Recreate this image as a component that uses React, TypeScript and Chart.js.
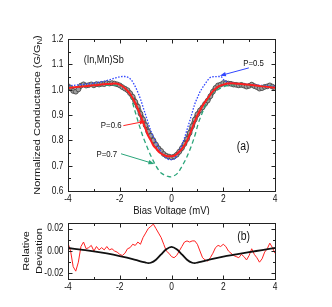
import React, { useEffect, useRef } from "react";
import { Chart, registerables } from "chart.js";

Chart.register(...registerables);

// ---------- data ----------
const V_DATA = [
  -4.0, -3.9, -3.8, -3.7, -3.6, -3.5, -3.4, -3.3, -3.2, -3.1,
  -3.0, -2.9, -2.8, -2.7, -2.6, -2.5, -2.4, -2.3, -2.2, -2.1,
  -2.0, -1.9, -1.8, -1.7, -1.6, -1.5, -1.4, -1.3, -1.2, -1.1,
  -1.0, -0.9, -0.8, -0.7, -0.6, -0.5, -0.4, -0.3, -0.2, -0.1,
  0.0,
  0.1, 0.2, 0.3, 0.4, 0.5, 0.6, 0.7, 0.8, 0.9, 1.0,
  1.1, 1.2, 1.3, 1.4, 1.5, 1.6, 1.7, 1.8, 1.9, 2.0,
  2.1, 2.2, 2.3, 2.4, 2.5, 2.6, 2.7, 2.8, 2.9, 3.0,
  3.1, 3.2, 3.3, 3.4, 3.5, 3.6, 3.7, 3.8, 3.9, 4.0,
];

// measured normalized conductance (grey circles)
const G_DATA = [
  1.014, 1.008, 0.995, 0.992, 1.001, 1.016, 1.021, 1.016, 1.018, 1.021,
  1.017, 1.022, 1.020, 1.023, 1.022, 1.026, 1.024, 1.026, 1.024, 1.021,
  1.017, 1.010, 1.004, 0.998, 0.986, 0.972, 0.952, 0.933, 0.905, 0.883,
  0.859, 0.834, 0.818, 0.800, 0.783, 0.768, 0.758, 0.746, 0.739, 0.736,
  0.733,
  0.736, 0.743, 0.755, 0.769, 0.786, 0.805, 0.829, 0.856, 0.882, 0.903,
  0.918, 0.930, 0.944, 0.957, 0.974, 0.992, 1.007, 1.017, 1.020, 1.026,
  1.026, 1.024, 1.023, 1.020, 1.019, 1.017, 1.019, 1.016, 1.012, 1.015,
  1.020, 1.014, 1.010, 1.004, 1.006, 1.011, 1.013, 1.017, 1.012, 1.006,
];

// fit P = 0.6 (red solid)
const V_FIT06 = [
  -4, -3.5, -3, -2.5, -2.2, -2.0, -1.8, -1.63, -1.5, -1.37,
  -1.25, -1.11, -1.0, -0.92, -0.8, -0.72, -0.6, -0.46, -0.3, -0.15,
  0, 0.15, 0.3, 0.45, 0.63, 0.75, 0.89, 1.0, 1.15, 1.3,
  1.41, 1.55, 1.66, 1.8, 2.0, 2.3, 2.6, 3.0, 3.5, 4.0,
];
const G_FIT06 = [
  1.007, 1.012, 1.017, 1.022, 1.024, 1.020, 1.006, 0.987, 0.966, 0.941,
  0.911, 0.875, 0.845, 0.822, 0.800, 0.783, 0.768, 0.752, 0.742, 0.737,
  0.737, 0.742, 0.755, 0.772, 0.805, 0.835, 0.872, 0.898, 0.928, 0.952,
  0.967, 0.987, 1.000, 1.012, 1.020, 1.025, 1.023, 1.019, 1.013, 1.008,
];

// fit P = 0.5 (blue dotted)
const V_FIT05 = [
  -4, -3.5, -3, -2.5, -2.2, -2.0, -1.8, -1.65, -1.56, -1.45,
  -1.37, -1.27, -1.17, -1.08, -0.98, -0.88, -0.79, -0.69, -0.59, -0.46,
  -0.33, -0.2, -0.08, 0.05, 0.15, 0.31, 0.4, 0.5, 0.6, 0.7,
  0.8, 0.89, 1.0, 1.08, 1.18, 1.28, 1.38, 1.47, 1.6, 1.9,
  2.05, 2.2, 2.4, 2.7, 3.0, 3.5, 4.0,
];
const G_FIT05 = [
  1.015, 1.020, 1.026, 1.036, 1.045, 1.051, 1.052, 1.047, 1.039, 1.022,
  1.006, 0.982, 0.954, 0.925, 0.894, 0.862, 0.835, 0.811, 0.789, 0.764,
  0.743, 0.730, 0.724, 0.724, 0.731, 0.760, 0.782, 0.809, 0.842, 0.875,
  0.909, 0.941, 0.968, 0.987, 1.005, 1.020, 1.035, 1.046, 1.051, 1.052,
  1.036, 1.029, 1.025, 1.022, 1.020, 1.017, 1.013,
];

// fit P = 0.7 (green dashed)
const V_FIT07 = [
  -4, -3.5, -3, -2.5, -2.2, -2.0, -1.88, -1.76, -1.66, -1.56,
  -1.47, -1.37, -1.27, -1.17, -1.08, -0.98, -0.88, -0.79, -0.69, -0.59,
  -0.5, -0.4, -0.27, -0.14, -0.03, 0.1, 0.24, 0.34, 0.44, 0.54,
  0.63, 0.73, 0.83, 0.93, 1.02, 1.11, 1.21, 1.31, 1.41, 1.5,
  1.6, 1.7, 1.79, 1.92, 2.05, 2.3, 2.6, 3.0, 3.5, 4.0,
];
const G_FIT07 = [
  1.010, 1.013, 1.015, 1.018, 1.018, 1.016, 1.013, 1.006, 0.990, 0.967,
  0.936, 0.901, 0.867, 0.835, 0.808, 0.783, 0.758, 0.737, 0.716, 0.697,
  0.683, 0.671, 0.663, 0.658, 0.656, 0.660, 0.671, 0.686, 0.704, 0.723,
  0.743, 0.768, 0.796, 0.828, 0.862, 0.888, 0.914, 0.938, 0.960, 0.975,
  0.987, 0.995, 1.000, 1.008, 1.013, 1.018, 1.020, 1.018, 1.015, 1.012,
];

// relative deviation of data (red, panel b), on V_DATA grid
const DEV_RED = [
  0.007, 0.000, -0.014, -0.018, -0.010, 0.004, 0.008, 0.002, 0.003, 0.005,
  0.000, 0.004, 0.001, 0.003, 0.001, 0.004, 0.001, 0.002, 0.000, -0.001,
  -0.003, -0.004, -0.002, 0.002, 0.003, 0.006, 0.005, 0.008, 0.006, 0.012,
  0.016, 0.020, 0.022, 0.024, 0.020, 0.016, 0.012, 0.006, 0.000, -0.002,
  -0.005,
  -0.006, -0.004, 0.000, 0.004, 0.008, 0.009, 0.008, 0.009, 0.009, 0.006,
  0.000, -0.006, -0.008, -0.009, -0.006, -0.002, 0.003, 0.005, 0.004, 0.006,
  0.004, 0.000, -0.002, -0.004, -0.005, -0.006, -0.003, -0.005, -0.008, -0.004,
  0.002, -0.003, -0.006, -0.010, -0.007, -0.001, 0.002, 0.007, 0.003, -0.002,
];

// relative deviation (black, panel b)
const V_DEVFIT = [
  -4, -3.5, -3, -2.5, -2, -1.5, -1.2, -1.0, -0.9, -0.8,
  -0.6, -0.4, -0.2, 0, 0.2, 0.4, 0.6, 0.8, 0.9, 1.0,
  1.2, 1.5, 2, 2.5, 3, 3.5, 4,
];
const DEV_BLACK = [
  0.0027, 0.0012, -0.0003, -0.0022, -0.0045, -0.0072, -0.0092, -0.0103, -0.0108, -0.0105,
  -0.0078, -0.003, 0.0015, 0.0036, 0.0015, -0.003, -0.0078, -0.0105, -0.0108, -0.0103,
  -0.0092, -0.0075, -0.0050, -0.0030, -0.0010, 0.0008, 0.0027,
];

// ticks
const X_TICKS = [-4, -2, 0, 2, 4];
const X_MINOR = [-3, -1, 1, 3];
const Y_TICKS_TOP = [0.6, 0.7, 0.8, 0.9, 1.0, 1.1, 1.2];
const Y_MINOR_TOP = [0.65, 0.75, 0.85, 0.95, 1.05, 1.15];
const Y_TICKS_BOT = [-0.02, 0, 0.02];
const Y_MINOR_BOT = [-0.01, 0.01];

// ---------- drawing helpers ----------
const FAMILY = '"Liberation Sans", Arial, Helvetica, sans-serif';

function pts(xs: number[], ys: number[]) {
  return xs.map((x, i) => ({ x, y: ys[i] }));
}

function drawText(
  ctx: CanvasRenderingContext2D,
  s: string,
  x: number,
  y: number,
  size: number,
  align: CanvasTextAlign = "center",
  sx = 0.87
) {
  ctx.save();
  ctx.translate(x, y);
  ctx.scale(sx, 1);
  ctx.font = `${size}px ${FAMILY}`;
  ctx.fillStyle = "#111";
  ctx.textAlign = align;
  ctx.textBaseline = "middle";
  ctx.fillText(s, 0, 0);
  ctx.restore();
}

function drawArrow(
  ctx: CanvasRenderingContext2D,
  x1: number,
  y1: number,
  x2: number,
  y2: number,
  color: string
) {
  const ang = Math.atan2(y2 - y1, x2 - x1);
  const L = 6;
  const W = 2.2;
  ctx.save();
  ctx.strokeStyle = color;
  ctx.fillStyle = color;
  ctx.lineWidth = 1;
  ctx.beginPath();
  ctx.moveTo(x1, y1);
  ctx.lineTo(x2 - Math.cos(ang) * L * 0.8, y2 - Math.sin(ang) * L * 0.8);
  ctx.stroke();
  ctx.beginPath();
  ctx.moveTo(x2, y2);
  ctx.lineTo(
    x2 - Math.cos(ang) * L - Math.sin(ang) * W,
    y2 - Math.sin(ang) * L + Math.cos(ang) * W
  );
  ctx.lineTo(
    x2 - Math.cos(ang) * L + Math.sin(ang) * W,
    y2 - Math.sin(ang) * L - Math.cos(ang) * W
  );
  ctx.closePath();
  ctx.fill();
  ctx.restore();
}

type Note = { text: string; x: number; y: number; size: number };
type Arrow = { x1: number; y1: number; x2: number; y2: number; color: string };

function framePlugin(cfg: {
  yMajor: number[];
  yMinor: number[];
  yFmt: (v: number) => string;
  notes: Note[];
  arrows: Arrow[];
  titles: (chart: any) => void;
}) {
  return {
    id: "frameTicks",
    afterDatasetsDraw(chart: any) {
      const { ctx, chartArea: a, scales } = chart;
      const xs = scales.x;
      const ys = scales.y;
      const L = Math.round(a.left) + 0.5;
      const R = Math.round(a.right) + 0.5;
      const T = Math.round(a.top) + 0.5;
      const B = Math.round(a.bottom) + 0.5;
      ctx.save();
      ctx.strokeStyle = "#222";
      ctx.lineWidth = 1;
      ctx.strokeRect(L, T, R - L, B - T);
      ctx.beginPath();
      const xt = (v: number, len: number) => {
        const p = Math.round(xs.getPixelForValue(v)) + 0.5;
        ctx.moveTo(p, B);
        ctx.lineTo(p, B - len);
        ctx.moveTo(p, T);
        ctx.lineTo(p, T + len);
      };
      const yt = (v: number, len: number) => {
        const p = Math.round(ys.getPixelForValue(v)) + 0.5;
        ctx.moveTo(L, p);
        ctx.lineTo(L + len, p);
        ctx.moveTo(R, p);
        ctx.lineTo(R - len, p);
      };
      X_TICKS.forEach((v) => xt(v, 4));
      X_MINOR.forEach((v) => xt(v, 2.5));
      cfg.yMajor.forEach((v) => yt(v, 4));
      cfg.yMinor.forEach((v) => yt(v, 2.5));
      ctx.stroke();
      ctx.restore();

      // tick labels, positioned through the chart's own scales
      X_TICKS.forEach((v) =>
        drawText(ctx, String(v), xs.getPixelForValue(v), B + 7.5, 10.5, "center", 0.8)
      );
      cfg.yMajor.forEach((v) =>
        drawText(ctx, cfg.yFmt(v), L - 5, ys.getPixelForValue(v), 10.5, "right", 0.8)
      );

      cfg.arrows.forEach((ar) =>
        drawArrow(
          ctx,
          xs.getPixelForValue(ar.x1),
          ys.getPixelForValue(ar.y1),
          xs.getPixelForValue(ar.x2),
          ys.getPixelForValue(ar.y2),
          ar.color
        )
      );
      cfg.notes.forEach((n) =>
        drawText(ctx, n.text, xs.getPixelForValue(n.x), ys.getPixelForValue(n.y), n.size)
      );
      cfg.titles(chart);
    },
  };
}

function axisX(height: number) {
  return {
    type: "linear",
    min: -4,
    max: 4,
    afterFit: (s: any) => {
      s.height = height;
    },
    afterBuildTicks: (s: any) => {
      s.ticks = X_TICKS.map((v) => ({ value: v }));
    },
    ticks: { display: false },
    grid: { display: false, drawTicks: false },
    border: { display: false },
  };
}

function axisY(min: number, max: number, ticks: number[]) {
  return {
    type: "linear",
    min,
    max,
    afterFit: (s: any) => {
      s.width = 68;
    },
    afterBuildTicks: (s: any) => {
      s.ticks = ticks.map((v) => ({ value: v }));
    },
    ticks: { display: false },
    grid: { display: false, drawTicks: false },
    border: { display: false },
  };
}

export default function App() {
  const topRef = useRef<HTMLCanvasElement>(null);
  const botRef = useRef<HTMLCanvasElement>(null);

  useEffect(() => {
    if (!topRef.current || !botRef.current) return;

    const topChart = new Chart(topRef.current, {
      type: "scatter",
      data: {
        datasets: [
          {
            label: "P=0.6",
            data: pts(V_FIT06, G_FIT06),
            showLine: true,
            borderColor: "#ff1f1f",
            borderWidth: 2,
            pointRadius: 0,
            cubicInterpolationMode: "monotone",
          },
          {
            label: "P=0.7",
            data: pts(V_FIT07, G_FIT07),
            showLine: true,
            borderColor: "#2aa57a",
            borderWidth: 1.3,
            borderDash: [4.5, 3],
            pointRadius: 0,
            cubicInterpolationMode: "monotone",
          },
          {
            label: "P=0.5",
            data: pts(V_FIT05, G_FIT05),
            showLine: true,
            borderColor: "#3146ff",
            borderWidth: 1.3,
            borderDash: [1.5, 1.5],
            pointRadius: 0,
            cubicInterpolationMode: "monotone",
          },
          {
            label: "data",
            data: pts(V_DATA, G_DATA),
            showLine: true,
            borderColor: "#6a6a6a",
            borderWidth: 4.5,
            pointRadius: 2.4,
            pointBackgroundColor: "#a0a0a0",
            pointBorderColor: "#454545",
            pointBorderWidth: 0.8,
          },
        ],
      },
      options: {
        responsive: false,
        animation: false,
        layout: { padding: { top: 39, right: 57, left: 0, bottom: 0 } },
        plugins: { legend: { display: false }, tooltip: { enabled: false } },
        scales: {
          x: axisX(24),
          y: axisY(0.6, 1.2, Y_TICKS_TOP),
        },
      },
      plugins: [
        framePlugin({
          yMajor: Y_TICKS_TOP,
          yMinor: Y_MINOR_TOP,
          yFmt: (v) => v.toFixed(1),
          notes: [
            { text: "(In,Mn)Sb", x: -2.62, y: 1.118, size: 10.5 },
            { text: "P=0.5", x: 3.17, y: 1.102, size: 9 },
            { text: "P=0.6", x: -2.33, y: 0.858, size: 9 },
            { text: "P=0.7", x: -2.5, y: 0.745, size: 9 },
            { text: "(a)", x: 2.77, y: 0.775, size: 12 },
          ],
          arrows: [
            { x1: 2.99, y1: 1.086, x2: 1.87, y2: 1.055, color: "#3146ff" },
            { x1: -1.86, y1: 0.858, x2: -1.0, y2: 0.8755, color: "#ff1f1f" },
            { x1: -1.95, y1: 0.747, x2: -0.66, y2: 0.707, color: "#2aa57a" },
          ],
          titles: (chart: any) => {
            const { ctx, chartArea: a } = chart;
            drawText(ctx, "Bias Voltage (mV)", (a.left + a.right) / 2, a.bottom + 20, 11);
            // rotated y title with subscript
            const cx = a.left - 32;
            const cy = (a.top + a.bottom) / 2;
            ctx.save();
            ctx.translate(cx, cy);
            ctx.rotate(-Math.PI / 2);
            ctx.scale(1, 0.9);
            ctx.fillStyle = "#111";
            ctx.textBaseline = "alphabetic";
            ctx.textAlign = "left";
            const main = "Normalized Conductance (G/G";
            ctx.font = `11px ${FAMILY}`;
            const wA = ctx.measureText(main).width;
            const wC = ctx.measureText(")").width;
            ctx.font = `7.5px ${FAMILY}`;
            const wN = ctx.measureText("N").width;
            const start = -(wA + wN + wC) / 2;
            ctx.font = `11px ${FAMILY}`;
            ctx.fillText(main, start, 4);
            ctx.font = `7.5px ${FAMILY}`;
            ctx.fillText("N", start + wA, 6.5);
            ctx.font = `11px ${FAMILY}`;
            ctx.fillText(")", start + wA + wN, 4);
            ctx.restore();
          },
        }),
      ],
    } as any);

    const botChart = new Chart(botRef.current, {
      type: "scatter",
      data: {
        datasets: [
          {
            label: "fit deviation",
            data: pts(V_DEVFIT, DEV_BLACK),
            showLine: true,
            borderColor: "#111",
            borderWidth: 1.8,
            pointRadius: 0,
            cubicInterpolationMode: "monotone",
          },
          {
            label: "data deviation",
            data: pts(V_DATA, DEV_RED),
            showLine: true,
            borderColor: "#ff2020",
            borderWidth: 1,
            pointRadius: 0,
          },
        ],
      },
      options: {
        responsive: false,
        animation: false,
        layout: { padding: { top: 8, right: 57, left: 0, bottom: 0 } },
        plugins: { legend: { display: false }, tooltip: { enabled: false } },
        scales: {
          x: axisX(28),
          y: axisY(-0.025, 0.025, Y_TICKS_BOT),
        },
      },
      plugins: [
        framePlugin({
          yMajor: Y_TICKS_BOT,
          yMinor: Y_MINOR_BOT,
          yFmt: (v) => v.toFixed(2),
          notes: [{ text: "(b)", x: 2.79, y: 0.0129, size: 12 }],
          arrows: [],
          titles: (chart: any) => {
            const { ctx, chartArea: a } = chart;
            const cy = (a.top + a.bottom) / 2;
            const lines = ["Relative", "Deviation"];
            const xsPos = [a.left - 42, a.left - 29];
            lines.forEach((s, i) => {
              ctx.save();
              ctx.translate(xsPos[i], cy);
              ctx.rotate(-Math.PI / 2);
              ctx.scale(1, 0.9);
              ctx.font = `11px ${FAMILY}`;
              ctx.fillStyle = "#111";
              ctx.textAlign = "center";
              ctx.textBaseline = "middle";
              ctx.fillText(s, 0, 0);
              ctx.restore();
            });
          },
        }),
      ],
    } as any);

    return () => {
      topChart.destroy();
      botChart.destroy();
    };
  }, []);

  return (
    <div
      style={{
        position: "fixed",
        left: 0,
        top: 0,
        width: 332,
        height: 307,
        background: "#fff",
      }}
    >
      <canvas
        ref={topRef}
        width={332}
        height={215}
        style={{ position: "absolute", left: 0, top: 0, width: 332, height: 215 }}
      />
      <canvas
        ref={botRef}
        width={332}
        height={92}
        style={{ position: "absolute", left: 0, top: 215, width: 332, height: 92 }}
      />
    </div>
  );
}
